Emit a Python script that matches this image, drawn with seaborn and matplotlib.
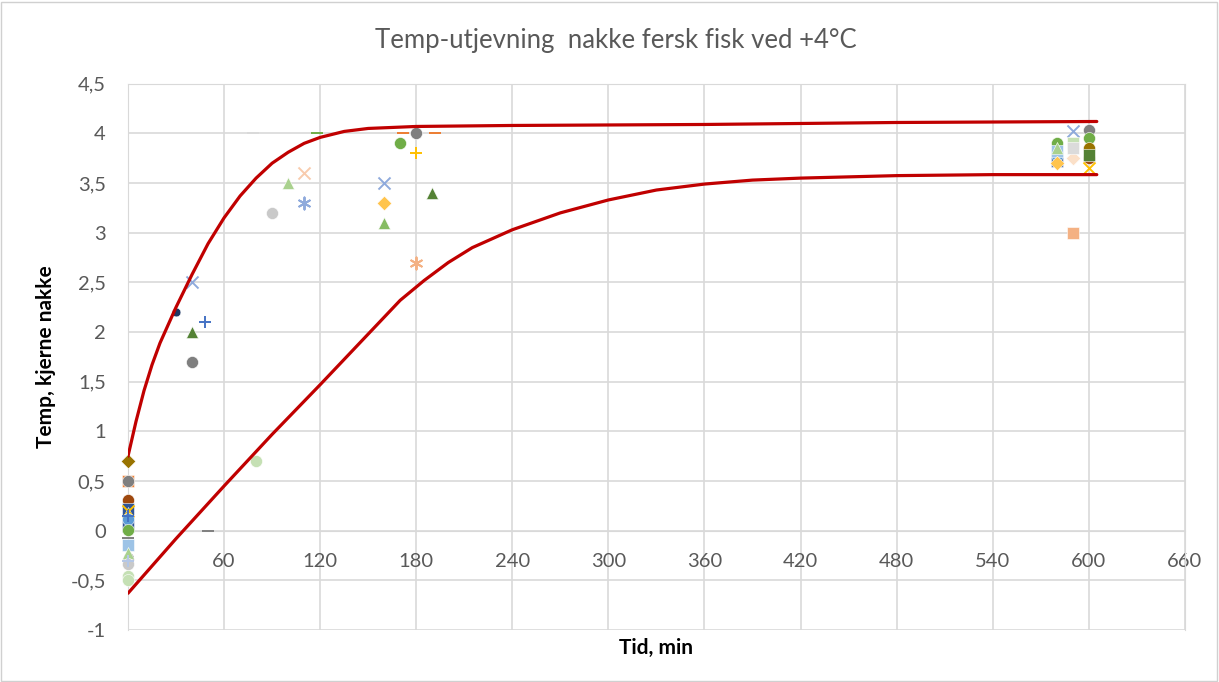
import matplotlib
matplotlib.use("Agg")
import matplotlib.pyplot as plt
from matplotlib.patches import Rectangle
from matplotlib.ticker import FuncFormatter, MultipleLocator
import pandas as pd
import seaborn as sns

sns.set_style("white")
plt.rcParams["font.family"] = ["Lato", "DejaVu Sans"]

# ------------------------------------------------------------
# Data
# ------------------------------------------------------------
# measured core temperatures: time (min), temp (degC), marker group
tid = [0, 0, 0, 0, 0, 0, 0, 0, 0, 0, 0, 0, 0, 0, 0, 0, 0, 0,
       30, 40, 48, 40, 40, 50, 80, 78, 118, 90, 100, 110, 110,
       160, 160, 160, 170, 180, 172, 192, 180, 190, 180,
       580, 580, 580, 580, 580, 580,
       590, 590, 590, 590, 590,
       600, 600, 600, 600, 600, 600]
temp = [0.7, 0.5, 0.5, 0.31, 0.22, 0.18, 0.2, 0.12, 0.15, 0.05, 0.01, -0.07,
        -0.14, -0.22, -0.34, -0.46, -0.3, -0.5,
        2.2, 2.5, 2.1, 2.0, 1.7, 0.0, 0.7, 4.0, 4.0, 3.2, 3.5, 3.6, 3.3,
        3.5, 3.3, 3.1, 3.9, 4.0, 4.0, 4.0, 3.8, 3.4, 2.7,
        3.9, 3.82, 3.85, 3.72, 3.78, 3.7,
        4.02, 3.9, 3.75, 3.85, 3.0,
        4.03, 3.95, 3.85, 3.75, 3.78, 3.65]
gruppe = ["olive_d", "orange_s", "gray_o", "brown_o", "navy_s", "green_t", "yellow_x",
          "blue_o", "blue_plus", "navy_s", "green_o", "gray_dash",
          "lblue_s", "lgreen_t", "lgray_o", "lgreen_o", "lblue_plus", "lgreen_o",
          "navy_o", "lblue_x", "blue_plus", "green_t", "gray_o", "gray_dash",
          "lgreen_o", "lgray_dash", "green_dash", "lgray_o", "lgreen_t",
          "lorange_x", "lblue_ast",
          "lblue_x", "gold_d", "mgreen_t", "green_o", "gray_o",
          "orange_dash", "orange_dash", "yellow_plus", "green_t", "orange_ast",
          "green_o", "lblue_s", "lgreen_t", "navy_s", "blue_o", "gold_d",
          "lblue_x", "lgreen_s", "lorange_d", "lgray_s", "salmon_s",
          "gray_o", "green_o", "olive_o", "brown_o", "dgreen_s", "yellow_x"]

# fitted red curves
kurve_hoy_tid = [0, 5, 10, 15, 20, 30, 40, 50, 60, 70, 80, 90, 100, 110, 120,
                 135, 150, 180, 240, 360, 480, 605]
kurve_hoy_temp = [0.75, 1.1, 1.41, 1.67, 1.89, 2.25, 2.58, 2.89, 3.15, 3.37, 3.55,
                  3.7, 3.81, 3.9, 3.96, 4.02, 4.05, 4.07, 4.08, 4.09, 4.11, 4.12]
kurve_lav_tid = [0, 30, 60, 90, 120, 150, 170, 185, 200, 215, 240, 270, 300,
                 330, 360, 390, 420, 480, 540, 605]
kurve_lav_temp = [-0.63, -0.08, 0.45, 0.97, 1.47, 1.98, 2.32, 2.52, 2.7, 2.85,
                  3.03, 3.2, 3.33, 3.43, 3.49, 3.53, 3.55, 3.575, 3.585, 3.585]

# marker / colour per group
stil = {
    "olive_d": ("D", "#997300"), "orange_s": ("s", "#ED7D31"),
    "gray_o": ("o", "#7F7F7F"), "brown_o": ("o", "#9E480E"),
    "navy_s": ("s", "#2F5597"), "navy_o": ("o", "#1F3864"),
    "green_t": ("^", "#548235"), "yellow_x": ("x", "#FFC000"),
    "blue_o": ("o", "#5B9BD5"), "blue_plus": ("+", "#4472C4"),
    "green_o": ("o", "#70AD47"), "gray_dash": ("_", "#7F7F7F"),
    "lblue_s": ("s", "#9DC3E6"), "lgreen_t": ("^", "#A9D18E"),
    "lgray_o": ("o", "#C9C9C9"), "lgreen_o": ("o", "#C5E0B4"),
    "lblue_plus": ("+", "#B4C7E7"), "lblue_x": ("x", "#8FAADC"),
    "lgray_dash": ("_", "#D9D9D9"), "green_dash": ("_", "#70AD47"),
    "lorange_x": ("x", "#F8CBAD"), "lblue_ast": ((6, 2, 0), "#8FAADC"),
    "gold_d": ("D", "#FFC44D"), "mgreen_t": ("^", "#86BC62"),
    "orange_dash": ("_", "#ED7D31"), "yellow_plus": ("+", "#FFC000"),
    "orange_ast": ((6, 2, 0), "#F4B183"), "lgreen_s": ("s", "#C5E0B4"),
    "lorange_d": ("D", "#FBE0C8"), "lgray_s": ("s", "#DBDBDB"),
    "salmon_s": ("s", "#F4B183"), "olive_o": ("o", "#997300"),
    "dgreen_s": ("s", "#548235"),
}

df = pd.DataFrame({"tid": tid, "temp": temp, "gruppe": gruppe})

# ------------------------------------------------------------
# Plot
# ------------------------------------------------------------
fig = plt.figure(figsize=(12.19, 6.82), dpi=100)
ax = fig.add_axes([0.105, 0.0762, 0.867, 0.801])

for g, d in df.groupby("gruppe", sort=False):
    marker, farge = stil[g]
    filled = marker in ("o", "s", "D", "^")
    size = 40 if g == "navy_o" else (55 if marker == "D" else 75)
    kw = dict(edgecolor="white", linewidth=0.4) if filled else dict(linewidth=1.4)
    sns.scatterplot(data=d, x="tid", y="temp", marker=marker, color=farge,
                    s=size, ax=ax, zorder=3, clip_on=False, **kw)

sns.lineplot(x=kurve_hoy_tid, y=kurve_hoy_temp, color="#C00000", linewidth=2.3,
             sort=False, ax=ax, zorder=4)
sns.lineplot(x=kurve_lav_tid, y=kurve_lav_temp, color="#C00000", linewidth=2.3,
             sort=False, ax=ax, zorder=4)

ax.set_xlim(0, 660)
ax.set_ylim(-1, 4.5)
ax.xaxis.set_major_locator(MultipleLocator(60))
ax.yaxis.set_major_locator(MultipleLocator(0.5))
komma = FuncFormatter(lambda v, p: f"{v:g}".replace(".", ","))
ax.yaxis.set_major_formatter(komma)
ax.grid(True, color="#D9D9D9", linewidth=1.2)
ax.set_axisbelow(True)

for side in ["top", "right", "left"]:
    ax.spines[side].set_color("#D9D9D9")
ax.spines["bottom"].set_position(("data", 0))
ax.spines["bottom"].set_color("#D9D9D9")
ax.tick_params(axis="both", length=0, labelsize=14.5, labelcolor="#595959")
ax.tick_params(axis="x", pad=16)
ax.tick_params(axis="y", pad=16)

ax.set_xlabel("Tid, min", fontsize=15, fontweight="bold", color="black")
ax.xaxis.set_label_coords(0.5, -0.015)
ax.set_ylabel("Temp, kjerne nakke", fontsize=15, fontweight="bold", color="black")
ax.yaxis.set_label_coords(-0.068, 0.5)

fig.text(0.505, 0.941, "Temp-utjevning  nakke fersk fisk ved +4\u00b0C",
         ha="center", va="center", fontsize=18.5, color="#595959")

fig.patches.append(Rectangle((0.001, 0.002), 0.997, 0.995, transform=fig.transFigure,
                             fill=False, edgecolor="#D0D0D0", linewidth=1))

plt.savefig("out.png", dpi=100)
